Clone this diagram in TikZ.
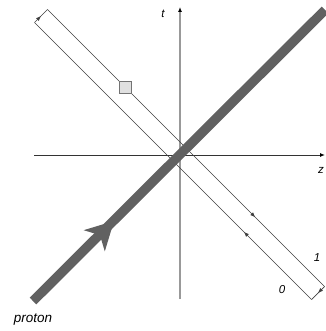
\documentclass[tikz,border=0pt]{standalone}
\usepackage{fontspec}
\setmainfont{Liberation Sans}
\usetikzlibrary{arrows.meta,decorations.markings}
\begin{document}
\begin{tikzpicture}[x=1pt,y=-1pt,
  edge/.style={draw=black!75, line width=0.7pt},
  lbl/.style={font=\itshape\fontsize{11.5}{13}\selectfont, inner sep=0pt},
  midarrow/.style={postaction={decorate}, decoration={markings, mark=at position #1 with {\arrow{Latex[length=5pt,width=4pt]}}}},
  sq/.style={draw=black!55, fill=black!12, line width=1pt, minimum size=12.5pt, inner sep=0pt},
  proton/.style={line width=9.5pt, draw=black!62}
]
\useasboundingbox (0,0) rectangle (325,331);
\coordinate (O) at (180,155);
\coordinate (A) at (34.5,22.5);
\coordinate (B) at (47.5,9.5);
\coordinate (C) at (324.5,286.5);
\coordinate (D) at (311.5,299.5);
\coordinate (zL) at (34,155);
\coordinate (zR) at (325,155);
\coordinate (tB) at (180,299);
\coordinate (tT) at (180,7);
% axes
\draw[line width=1pt, black!80, -{Latex[length=5pt,width=4pt,color=black]}] (zL) -- (zR);
\draw[line width=1.2pt, black!40, -{Latex[length=5pt,width=4pt,color=black]}] (tB) -- (tT);
% strip
\draw[edge, midarrow=0.5] (A) -- (B);
\draw[edge, midarrow=0.75] (B) -- (C);
\draw[edge, midarrow=0.5] (C) -- (D);
\draw[edge, midarrow=0.244] (D) -- (A);
\node[sq] (sqr) at (125.5,87.5) {};
% proton
\coordinate (P1) at (33,301);
\coordinate (P2) at (325,10);
\draw[proton] (P1) -- (P2);
\fill[black!62] (114,221) -- (104.8,251.4) -- (99.9,235.1) -- (83.6,230.2) -- cycle;
% labels
\node[lbl] (tl) at (163,14) {t};
\node[lbl] (zl) at (321,170) {z};
\node[lbl] (one) at (317,258) {1};
\node[lbl] (zero) at (282,290) {0};
\node[lbl, font=\itshape\fontsize{13.5}{15}\selectfont] (pl) at (33,320) {proton};
\end{tikzpicture}
\end{document}
